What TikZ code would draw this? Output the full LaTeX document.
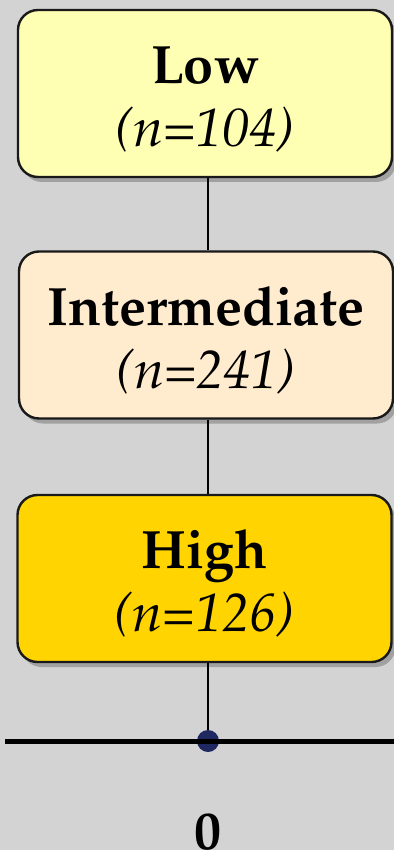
\documentclass[tikz,border=0pt]{standalone}
\usepackage[T1]{fontenc}
\usepackage{mathpazo}
\usetikzlibrary{shadows}

\definecolor{lowfill}{RGB}{255,255,180}
\definecolor{midfill}{RGB}{255,235,206}
\definecolor{highfill}{RGB}{255,212,0}
\definecolor{bggray}{RGB}{211,211,211}
\definecolor{dotblue}{RGB}{31,40,96}

\newcommand{\toppad}{\rule{0pt}{24.5pt}}

\begin{document}
\begin{tikzpicture}[x=0.5pt, y=-0.5pt,
	group/.style={draw=black!90, line width=1.2pt, rounded corners=10pt,
		minimum width=187pt, minimum height=83.5pt, align=center,
		font=\fontsize{27}{31.5}\selectfont,
		drop shadow={shadow xshift=2pt, shadow yshift=-2.5pt, opacity=0.6}},
	link/.style={line width=0.6pt}]

	\fill[bggray] (0,0) rectangle (394,850);
	\useasboundingbox (0,0) rectangle (394,850);

	\node[group, fill=lowfill] (low) at (205,93.5) {\toppad\textbf{Low}\\\textit{(n=104)}};
	\node[group, fill=midfill] (mid) at (206,335) {\toppad\textbf{Intermediate}\\\textit{(n=241)}};
	\node[group, fill=highfill] (high) at (204.5,578.5) {\toppad\textbf{High}\\\textit{(n=126)}};

	\node[circle, fill=dotblue, inner sep=0pt, minimum size=11pt] (dot) at (208,741) {};
	\coordinate (left) at (5,741);
	\coordinate (right) at (394,741);

	\draw[link] (low.south -| dot) -- (mid.north -| dot);
	\draw[link] (mid.south -| dot) -- (high.north -| dot);
	\draw[link] (high.south -| dot) -- (dot);
	\draw[line width=2.5pt] (left) -- (right);

	\node[anchor=base, font=\fontsize{27}{31.5}\selectfont\bfseries] (zero) at (208,849) {0};
\end{tikzpicture}
\end{document}
